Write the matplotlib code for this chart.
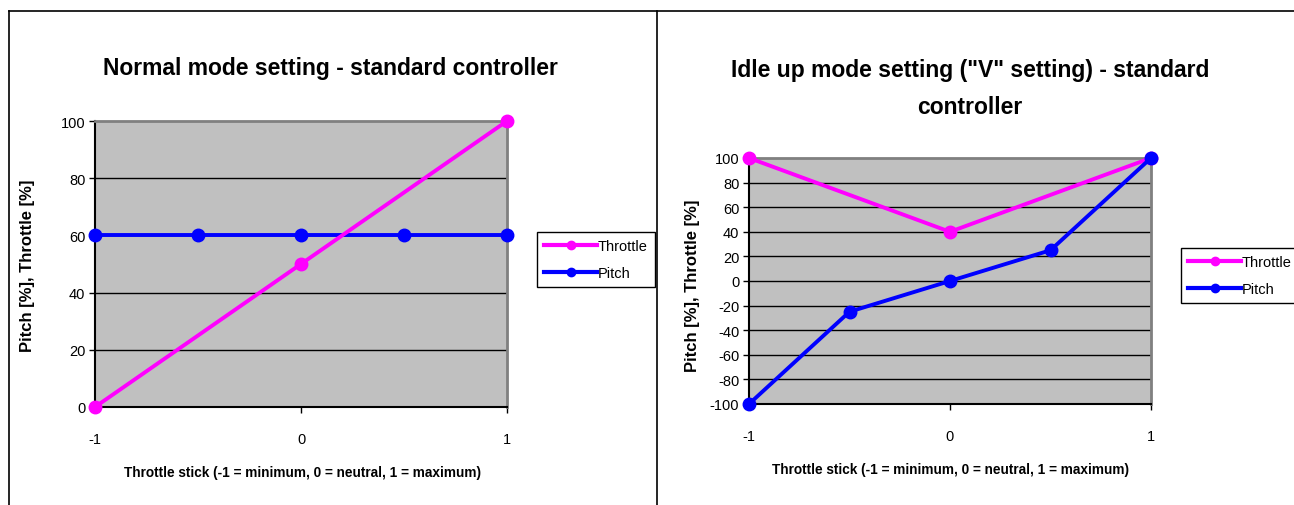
import matplotlib
matplotlib.use("Agg")
import matplotlib.pyplot as plt
from matplotlib.lines import Line2D

plt.rcParams["font.family"] = ["Liberation Sans", "DejaVu Sans"]
plt.rcParams["axes.unicode_minus"] = False

# Normal mode
normal_thr_x = [-1, 0, 1]
normal_thr_y = [0, 50, 100]
normal_pitch_x = [-1, -0.5, 0, 0.5, 1]
normal_pitch_y = [60, 60, 60, 60, 60]

# Idle up mode ("V")
idle_thr_x = [-1, 0, 1]
idle_thr_y = [100, 40, 100]
idle_pitch_x = [-1, -0.5, 0, 0.5, 1]
idle_pitch_y = [-100, -25, 0, 25, 100]

x_ticks = [-1, 0, 1]
normal_yticks = [0, 20, 40, 60, 80, 100]
idle_yticks = list(range(-100, 101, 20))

THR = "#FF00FF"
PITCH = "#0000FF"
W, H = 1294, 506

fig = plt.figure(figsize=(W / 100, H / 100), dpi=100)

# chart frames
for xs, ys in [([9, 9], [12, H + 5]), ([9, W + 5], [12, 12]), ([657, 657], [12, H + 5])]:
    fig.add_artist(Line2D([x / W for x in xs], [1 - y / H for y in ys],
                          color="black", lw=1.2, transform=fig.transFigure))


def style_axes(ax, yticks, ymin, ymax):
    ax.set_facecolor("#C0C0C0")
    ax.set_xlim(-1, 1)
    ax.set_ylim(ymin, ymax)
    ax.set_xticks(x_ticks)
    ax.set_yticks(yticks)
    for y in yticks[1:-1]:
        ax.axhline(y, color="black", lw=1, zorder=1)
    for s in ("left", "bottom"):
        ax.spines[s].set_color("black")
        ax.spines[s].set_linewidth(1.5)
    for s in ("top", "right"):
        ax.spines[s].set_color("#808080")
        ax.spines[s].set_linewidth(2)
    ax.tick_params(direction="out", length=4, width=1, labelsize=10.5, pad=3)
    ax.tick_params(axis="x", pad=14)


def draw(ax, thr_x, thr_y, p_x, p_y, thr_top):
    zt, zp = (4, 3) if thr_top else (3, 4)
    ax.plot(thr_x, thr_y, color=THR, lw=2.8, marker="o", ms=9, label="Throttle",
            zorder=zt, clip_on=False)
    ax.plot(p_x, p_y, color=PITCH, lw=2.8, marker="o", ms=9, label="Pitch",
            zorder=zp, clip_on=False)


def legend(ax, x, y):
    handles = [Line2D([], [], color=THR, lw=3, marker="o", ms=6),
               Line2D([], [], color=PITCH, lw=3, marker="o", ms=6)]
    leg = ax.legend(handles, ["Throttle", "Pitch"], loc="upper left",
                    bbox_to_anchor=(x / W, 1 - y / H), bbox_transform=fig.transFigure,
                    fancybox=False, framealpha=1, edgecolor="black", fontsize=10.5,
                    handlelength=3.6, handletextpad=0.05, borderpad=0.5,
                    labelspacing=0.85, borderaxespad=0)
    leg.get_frame().set_linewidth(1)


xlabel = "Throttle stick (-1 = minimum, 0 = neutral, 1 = maximum)"
ylabel = "Pitch [%], Throttle [%]"

# left chart
ax1 = fig.add_axes([95 / W, 1 - 408 / H, (507 - 95) / W, (408 - 122) / H])
style_axes(ax1, normal_yticks, 0, 100)
draw(ax1, normal_thr_x, normal_thr_y, normal_pitch_x, normal_pitch_y, True)
legend(ax1, 537, 233)
fig.text(330 / W, 1 - 69 / H, "Normal mode setting - standard controller",
         ha="center", va="center", fontsize=16.5, fontweight="bold")
fig.text(302 / W, 1 - 473 / H, xlabel,
         ha="center", va="center", fontsize=9.8, fontweight="bold")
fig.text(28 / W, 1 - 266 / H, ylabel, rotation=90,
         ha="center", va="center", fontsize=12, fontweight="bold")

# right chart
ax2 = fig.add_axes([749 / W, 1 - 405 / H, (1151 - 749) / W, (405 - 159) / H])
style_axes(ax2, idle_yticks, -100, 100)
draw(ax2, idle_thr_x, idle_thr_y, idle_pitch_x, idle_pitch_y, False)
legend(ax2, 1181, 249)
fig.text(970 / W, 1 - 89 / H, 'Idle up mode setting ("V" setting) - standard\ncontroller',
         ha="center", va="center", fontsize=16.5, fontweight="bold", linespacing=1.75)
fig.text(950 / W, 1 - 470 / H, xlabel,
         ha="center", va="center", fontsize=9.8, fontweight="bold")
fig.text(693 / W, 1 - 286 / H, ylabel, rotation=90,
         ha="center", va="center", fontsize=12, fontweight="bold")

fig.savefig("out.png", dpi=100)
